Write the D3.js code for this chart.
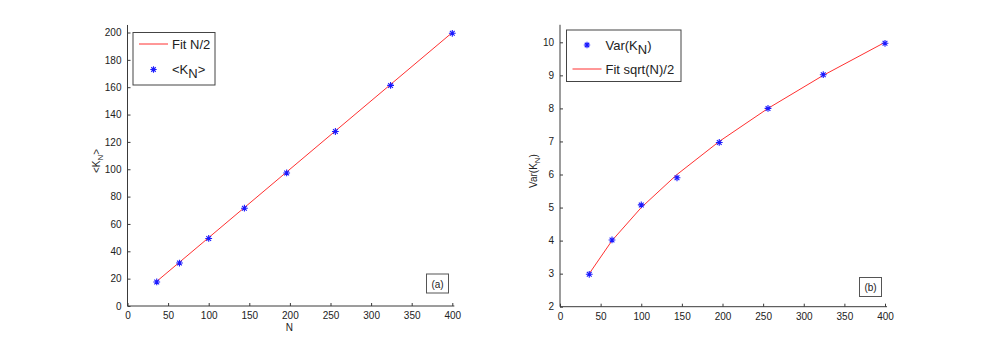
<!DOCTYPE html>
<html>
<head>
<meta charset="utf-8">
<script src="https://cdn.jsdelivr.net/npm/d3@7"></script>
<style>
  body { margin: 0; background: #fff; }
  svg text { font-family: "Liberation Sans", Arial, sans-serif; fill: #222; }
</style>
</head>
<body>
<div id="chart"></div>
<script>
const width = 981;
const height = 345;

// data
const nValues = [36, 64, 100, 144, 196, 256, 324, 400];
const meanK = [17.6, 31.4, 49.4, 71.5, 97.3, 127.6, 161.3, 199.4];
const fitMean = nValues.map(n => n / 2);
const varK = [2.98, 4.02, 5.08, 5.9, 6.97, 8.0, 9.02, 9.97];
const fitVar = [3, 4, 5, 6, 7, 8, 9, 10];
const xTicks = [0, 50, 100, 150, 200, 250, 300, 350, 400];
const yTicksA = [0, 20, 40, 60, 80, 100, 120, 140, 160, 180, 200];
const yTicksB = [2, 3, 4, 5, 6, 7, 8, 9, 10];

const svg = d3.select("#chart")
    .append("svg")
    .attr("width", width)
    .attr("height", height);

const axisColor = "#3a3a3a";
const markColor = "#1a1aff";
const fitColor = "#ff3030";

// MATLAB style '*' marker: plus + cross
function star(s) {
    const d = s * 0.7;
    return `M${-s},0L${s},0M0,${-s}L0,${s}` +
        `M${-d},${-d}L${d},${d}M${-d},${d}L${d},${-d}`;
}

function panel(opts) {
    const g = svg.append("g");
    const x = d3.scaleLinear().domain([0, 400]).range([opts.x0, opts.x1]);
    const y = d3.scaleLinear().domain(opts.yDomain).range([opts.y0, opts.y1]);

    const xEnd = x(402.5);
    const yTop = y(opts.yTop);

    // axis lines
    g.append("line").attr("x1", x(0)).attr("x2", xEnd)
        .attr("y1", y(opts.yDomain[0])).attr("y2", y(opts.yDomain[0]))
        .attr("stroke", axisColor).attr("stroke-width", 1);
    g.append("line").attr("x1", x(0)).attr("x2", x(0))
        .attr("y1", y(opts.yDomain[0])).attr("y2", yTop)
        .attr("stroke", axisColor).attr("stroke-width", 1);

    // ticks point inward
    const xa = g.append("g").attr("transform", `translate(0,${y(opts.yDomain[0])})`)
        .call(d3.axisBottom(x).tickValues(xTicks).tickSize(-3).tickPadding(6));
    xa.select(".domain").remove();
    xa.selectAll("line").attr("stroke", axisColor);
    xa.selectAll("text").attr("font-size", 10).style("font-family", "Liberation Sans, Arial, sans-serif").attr("fill", "#222");

    const ya = g.append("g").attr("transform", `translate(${x(0)},0)`)
        .call(d3.axisLeft(y).tickValues(opts.yTicks).tickSize(-3).tickPadding(6));
    ya.select(".domain").remove();
    ya.selectAll("line").attr("stroke", axisColor);
    ya.selectAll("text").attr("font-size", 10).style("font-family", "Liberation Sans, Arial, sans-serif").attr("fill", "#222");

    // fit line
    const line = d3.line().x((d, i) => x(nValues[i])).y(d => y(d));
    g.append("path").datum(opts.fit).attr("d", line)
        .attr("fill", "none").attr("stroke", fitColor).attr("stroke-width", 1);

    // points
    g.selectAll(".pt").data(opts.values).enter().append("path")
        .attr("class", "pt")
        .attr("transform", (d, i) => `translate(${x(nValues[i])},${y(d)})`)
        .attr("d", star(3.4))
        .attr("stroke", markColor).attr("stroke-width", 1.1).attr("fill", "none");

    // panel tag box
    const tag = g.append("g").attr("transform", `translate(${opts.tagX},${opts.tagY})`);
    tag.append("rect").attr("width", 22).attr("height", 19)
        .attr("fill", "#fff").attr("stroke", "#555").attr("stroke-width", 1);
    tag.append("text").attr("x", 11).attr("y", 13.5).attr("text-anchor", "middle")
        .attr("font-size", 10).text(opts.tag);

    return { g, x, y };
}

const a = panel({
    x0: 127.5, x1: 452.3, y0: 306, y1: 32.5,
    yDomain: [0, 200], yTop: 205.5, yTicks: yTicksA,
    fit: fitMean, values: meanK,
    tag: "(a)", tagX: 426.5, tagY: 274
});

const b = panel({
    x0: 560, x1: 885, y0: 306.7, y1: 42.3,
    yDomain: [2, 10], yTop: 10.53, yTicks: yTicksB,
    fit: fitVar, values: varK,
    tag: "(b)", tagX: 859.5, tagY: 277.5
});

// axis labels
svg.append("text").attr("x", a.x(200) - 0.5).attr("y", 331).attr("text-anchor", "middle")
    .attr("font-size", 10).text("N");

const ylA = svg.append("text").attr("transform", "translate(100,161) rotate(-90)")
    .attr("text-anchor", "middle").attr("font-size", 10);
ylA.append("tspan").text("<K");
ylA.append("tspan").attr("dy", 3).attr("font-size", 8).text("N");
ylA.append("tspan").attr("dy", -3).text(">");

const ylB = svg.append("text").attr("transform", "translate(537,171) rotate(-90)")
    .attr("text-anchor", "middle").attr("font-size", 10);
ylB.append("tspan").text("Var(K");
ylB.append("tspan").attr("dy", 3).attr("font-size", 8).text("N");
ylB.append("tspan").attr("dy", -3).text(")");

// legends
function legend(x, y, w, h, entries) {
    const lg = svg.append("g").attr("transform", `translate(${x},${y})`);
    lg.append("rect").attr("width", w).attr("height", h)
        .attr("fill", "#fff").attr("stroke", "#444").attr("stroke-width", 1);
    entries.forEach(e => {
        if (e.type === "line") {
            lg.append("line").attr("x1", 6).attr("x2", 35).attr("y1", e.y).attr("y2", e.y)
                .attr("stroke", fitColor).attr("stroke-width", 1);
        } else {
            lg.append("path").attr("transform", `translate(20.5,${e.y})`)
                .attr("d", star(3.2)).attr("stroke", markColor)
                .attr("stroke-width", 1.1).attr("fill", "none");
        }
        const t = lg.append("text").attr("x", 39).attr("y", e.y + 4.5).attr("font-size", 13);
        e.parts.forEach(p => {
            const s = t.append("tspan").text(p.t);
            if (p.sub) s.attr("dy", 4);
            if (p.up) s.attr("dy", -4);
        });
    });
}

legend(133, 32.5, 82, 52.5, [
    { type: "line", y: 11.5, parts: [{ t: "Fit N/2" }] },
    { type: "star", y: 37, parts: [{ t: "<K" }, { t: "N", sub: true }, { t: ">", up: true }] }
]);

legend(566.5, 30, 114.5, 51.5, [
    { type: "star", y: 15, parts: [{ t: "Var(K" }, { t: "N", sub: true }, { t: ")", up: true }] },
    { type: "line", y: 39, parts: [{ t: "Fit sqrt(N)/2" }] }
]);
</script>
</body>
</html>
